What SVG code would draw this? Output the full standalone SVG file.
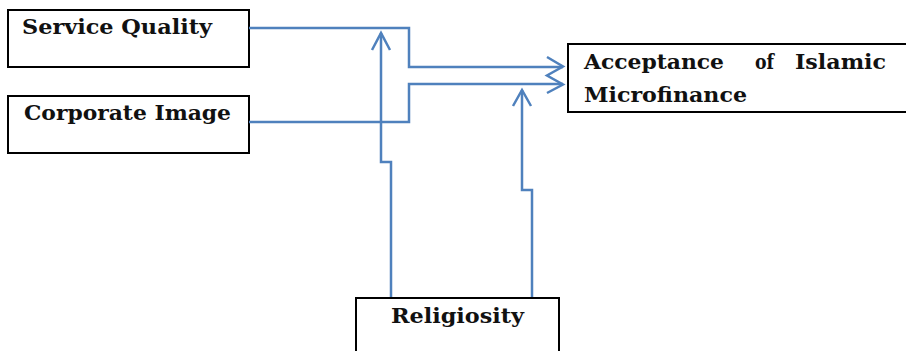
<svg xmlns="http://www.w3.org/2000/svg" width="906" height="351" viewBox="0 0 906 351">
<style>
.box{fill:#fff;stroke:#000;stroke-width:2}
.t{font-family:"DejaVu Serif","Liberation Serif",serif;font-weight:bold;font-size:20px;fill:#111}
.c{fill:none;stroke:#4f81bd;stroke-width:2.5}
</style>
<rect width="906" height="351" fill="#fff"/>
<g id="service-quality"><rect class="box" x="8" y="10" width="241" height="57"/><text class="t" x="22" y="34" textLength="190" lengthAdjust="spacingAndGlyphs">Service Quality</text></g>
<g id="corporate-image"><rect class="box" x="8" y="96" width="241" height="57"/><text class="t" x="24" y="120" textLength="207" lengthAdjust="spacingAndGlyphs">Corporate Image</text></g>
<g id="acceptance"><rect class="box" x="568" y="44" width="345" height="68"/><text class="t" x="584" y="69" textLength="140" lengthAdjust="spacingAndGlyphs">Acceptance</text><text class="t" x="755" y="69" textLength="19" lengthAdjust="spacingAndGlyphs">of</text><text class="t" x="795" y="69" textLength="91" lengthAdjust="spacingAndGlyphs">Islamic</text><text class="t" x="584" y="102" textLength="163" lengthAdjust="spacingAndGlyphs">Microfinance</text></g>
<g id="religiosity"><rect class="box" x="356" y="298" width="203" height="60"/><text class="t" x="391" y="323" textLength="133" lengthAdjust="spacingAndGlyphs">Religiosity</text></g>
<g id="connectors">
<path class="c" d="M249 28H409V67H563"/>
<path class="c" d="M249 122H409V84H563"/>
<path class="c" d="M547 57L563 66.5L547 75.5L563 84.5L547 93"/>
<path class="c" d="M391 297V162H381V33"/>
<path class="c" d="M372 50L381 33L390 50"/>
<path class="c" d="M532 297V190H522V90"/>
<path class="c" d="M513 106L522 90L531 106"/>
</g>
</svg>
